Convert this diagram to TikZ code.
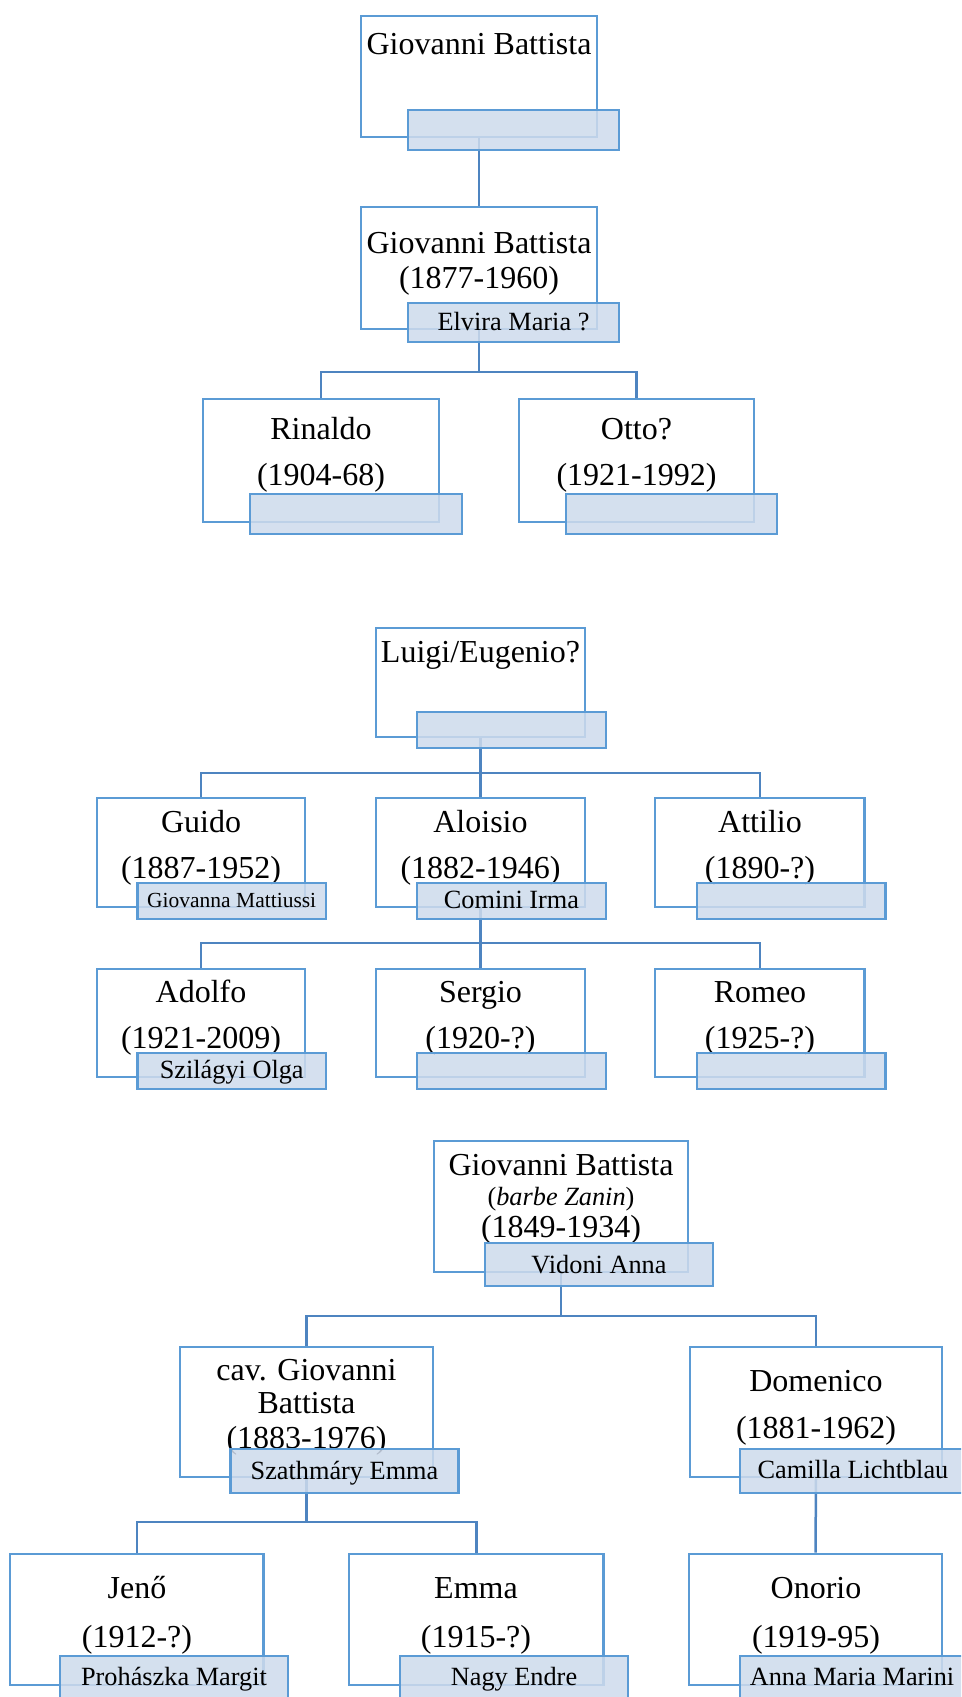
\documentclass[tikz,border=0pt]{standalone}
\usepackage{fontspec}
\setmainfont{Liberation Serif}
\usetikzlibrary{fit}
\definecolor{boxc}{RGB}{91,155,213}
\definecolor{linec}{RGB}{78,132,192}
\definecolor{spfill}{RGB}{206,219,236}
\tikzset{
  mainbox/.style={draw=boxc, line width=2.7pt, inner sep=0pt, fill=white},
  spbox/.style={draw=boxc, line width=2.7pt, inner sep=0pt, fill=spfill, fill opacity=0.86},
  conn/.style={draw=linec, line width=2.5pt},
  nm/.style={anchor=base, inner sep=0pt, font=\fontsize{32}{36}\selectfont},
  sp/.style={anchor=base, inner sep=0pt, font=\fontsize{26.3}{30}\selectfont},
  spsmall/.style={anchor=base, inner sep=0pt, font=\fontsize{21.5}{25}\selectfont},
}
\begin{document}
\begin{tikzpicture}[x=1pt, y=-1pt]
\useasboundingbox (0,0) rectangle (961,1697);
\clip (0,0) rectangle (961,1697);
% ---------- junction coordinates
\coordinate (j1) at (479,372);
\coordinate (j2) at (480.5,773);
\coordinate (j3) at (480.5,943);
\coordinate (j4) at (561,1316);
\coordinate (j5) at (306.5,1522);
% ---------- main boxes (tree 1)
\node[mainbox, fit={(361,16)(597,137)}] (b1) {};
\node[mainbox, fit={(361,207)(597,329)}] (b2) {};
\node[mainbox, fit={(203,399)(439,522)}] (c1) {};
\node[mainbox, fit={(519,399)(754,522)}] (c2) {};
% ---------- main boxes (tree 2)
\node[mainbox, fit={(376,628)(585,737)}] (l0) {};
\node[mainbox, fit={(97,798)(305,907)}] (gu) {};
\node[mainbox, fit={(376,798)(585,907)}] (al) {};
\node[mainbox, fit={(655,798)(864.5,907)}] (at) {};
\node[mainbox, fit={(97,969)(305,1077)}] (ad) {};
\node[mainbox, fit={(376,969)(585,1077)}] (se) {};
\node[mainbox, fit={(655,969)(864.5,1077)}] (ro) {};
% ---------- main boxes (tree 3)
\node[mainbox, fit={(434,1141)(688,1272)}] (gb) {};
\node[mainbox, fit={(180,1347)(433,1477)}] (cv) {};
\node[mainbox, fit={(690,1347)(942,1477)}] (dm) {};
\node[mainbox, fit={(10,1554)(263.5,1685)}] (je) {};
\node[mainbox, fit={(349,1554)(603.5,1685)}] (em) {};
\node[mainbox, fit={(689,1554)(942,1685)}] (on) {};
% ---------- connectors
\draw[conn] (b1.south) -- (b2.north);
\draw[conn] (b2.south) -- (j1);
\draw[conn] (c1.north) |- (j1) -| (c2.north);
\draw[conn] (l0.south) -- (j2);
\draw[conn] (gu.north) |- (j2) -| (at.north);
\draw[conn] (al.north) -- (j2);
\draw[conn] (al.south) -- (j3);
\draw[conn] (ad.north) |- (j3) -| (ro.north);
\draw[conn] (se.north) -- (j3);
\draw[conn] (gb.south) -- (j4);
\draw[conn] (cv.north) |- (j4) -| (dm.north);
\draw[conn] (cv.south) -- (j5);
\draw[conn] (je.north) |- (j5) -| (em.north);
\draw[conn] (dm.south) -- (on.north);
% ---------- main texts
\node[nm] (t1) at (479,54) {Giovanni Battista};
\node[nm] (t2a) at (479,253) {Giovanni Battista};
\node[nm] (t2b) at (479,288) {(1877-1960)};
\node[nm] (tc1a) at (321,439) {Rinaldo};
\node[nm] (tc1b) at (321,485) {(1904-68)};
\node[nm] (tc2a) at (636.5,439) {Otto?};
\node[nm] (tc2b) at (636.5,485) {(1921-1992)};
\node[nm] (tl0) at (480.5,662) {Luigi/Eugenio?};
\node[nm] (tgua) at (201,832) {Guido};
\node[nm] (tgub) at (201,878) {(1887-1952)};
\node[nm] (tala) at (480.5,832) {Aloisio};
\node[nm] (talb) at (480.5,878) {(1882-1946)};
\node[nm] (tata) at (760,832) {Attilio};
\node[nm] (tatb) at (760,878) {(1890-?)};
\node[nm] (tada) at (201,1002) {Adolfo};
\node[nm] (tadb) at (201,1048) {(1921-2009)};
\node[nm] (tsea) at (480.5,1002) {Sergio};
\node[nm] (tseb) at (480.5,1048) {(1920-?)};
\node[nm] (troa) at (760,1002) {Romeo};
\node[nm] (trob) at (760,1048) {(1925-?)};
\node[nm] (tgba) at (561,1175) {Giovanni Battista};
\node[sp] (tgbb) at (561,1205) {(\textit{barbe Zanin})};
\node[nm] (tgbc) at (561,1237) {(1849-1934)};
\node[nm] (tcva) at (306.5,1380) {cav. Giovanni};
\node[nm] (tcvb) at (306.5,1413) {Battista};
\node[nm] (tcvc) at (306.5,1448) {(1883-1976)};
\node[nm] (tdma) at (816,1391) {Domenico};
\node[nm] (tdmb) at (816,1438) {(1881-1962)};
\node[nm] (tjea) at (137,1598) {Jenő};
\node[nm] (tjeb) at (137,1647) {(1912-?)};
\node[nm] (tema) at (476,1598) {Emma};
\node[nm] (temb) at (476,1647) {(1915-?)};
\node[nm] (tona) at (816,1598) {Onorio};
\node[nm] (tonb) at (816,1647) {(1919-95)};
% ---------- spouse panels
\node[spbox, fit={(408,110)(619,150)}] (s1) {};
\node[spbox, fit={(408,303)(619,342)}] (s2) {};
\node[spbox, fit={(250,494)(462,534)}] (sc1) {};
\node[spbox, fit={(566,494)(777,534)}] (sc2) {};
\node[spbox, fit={(417,712)(606,748)}] (sl0) {};
\node[spbox, fit={(137.5,883)(326,919)}] (sgu) {};
\node[spbox, fit={(417,883)(606,919)}] (sal) {};
\node[spbox, fit={(697,883)(885.5,919)}] (sat) {};
\node[spbox, fit={(137.5,1053)(326,1089)}] (sad) {};
\node[spbox, fit={(417,1053)(606,1089)}] (sse) {};
\node[spbox, fit={(697,1053)(885.5,1089)}] (sro) {};
\node[spbox, fit={(485,1243)(713,1286)}] (sgb) {};
\node[spbox, fit={(230.5,1449)(458.5,1493)}] (scv) {};
\node[spbox, fit={(740,1449)(966,1493)}] (sdm) {};
\node[spbox, fit={(60,1656)(288,1702)}] (sje) {};
\node[spbox, fit={(400,1656)(628,1702)}] (sem) {};
\node[spbox, fit={(740,1656)(966,1702)}] (son) {};
% ---------- spouse texts
\node[sp] (ts2) at (513.5,330) {Elvira Maria ?};
\node[spsmall] (tsgu) at (231.7,907) {Giovanna Mattiussi};
\node[sp] (tsal) at (511.5,908) {Comini Irma};
\node[sp] (tsad) at (231.7,1078) {Szilágyi Olga};
\node[sp] (tsgb) at (599,1273) {Vidoni Anna};
\node[sp] (tscv) at (344.5,1479) {Szathmáry Emma};
\node[sp] (tsdm) at (853,1478) {Camilla Lichtblau};
\node[sp] (tsje) at (174,1685) {Prohászka Margit};
\node[sp] (tsem) at (514,1685) {Nagy Endre};
\node[sp] (tson) at (852,1685) {Anna Maria Marini};
\end{tikzpicture}
\end{document}
